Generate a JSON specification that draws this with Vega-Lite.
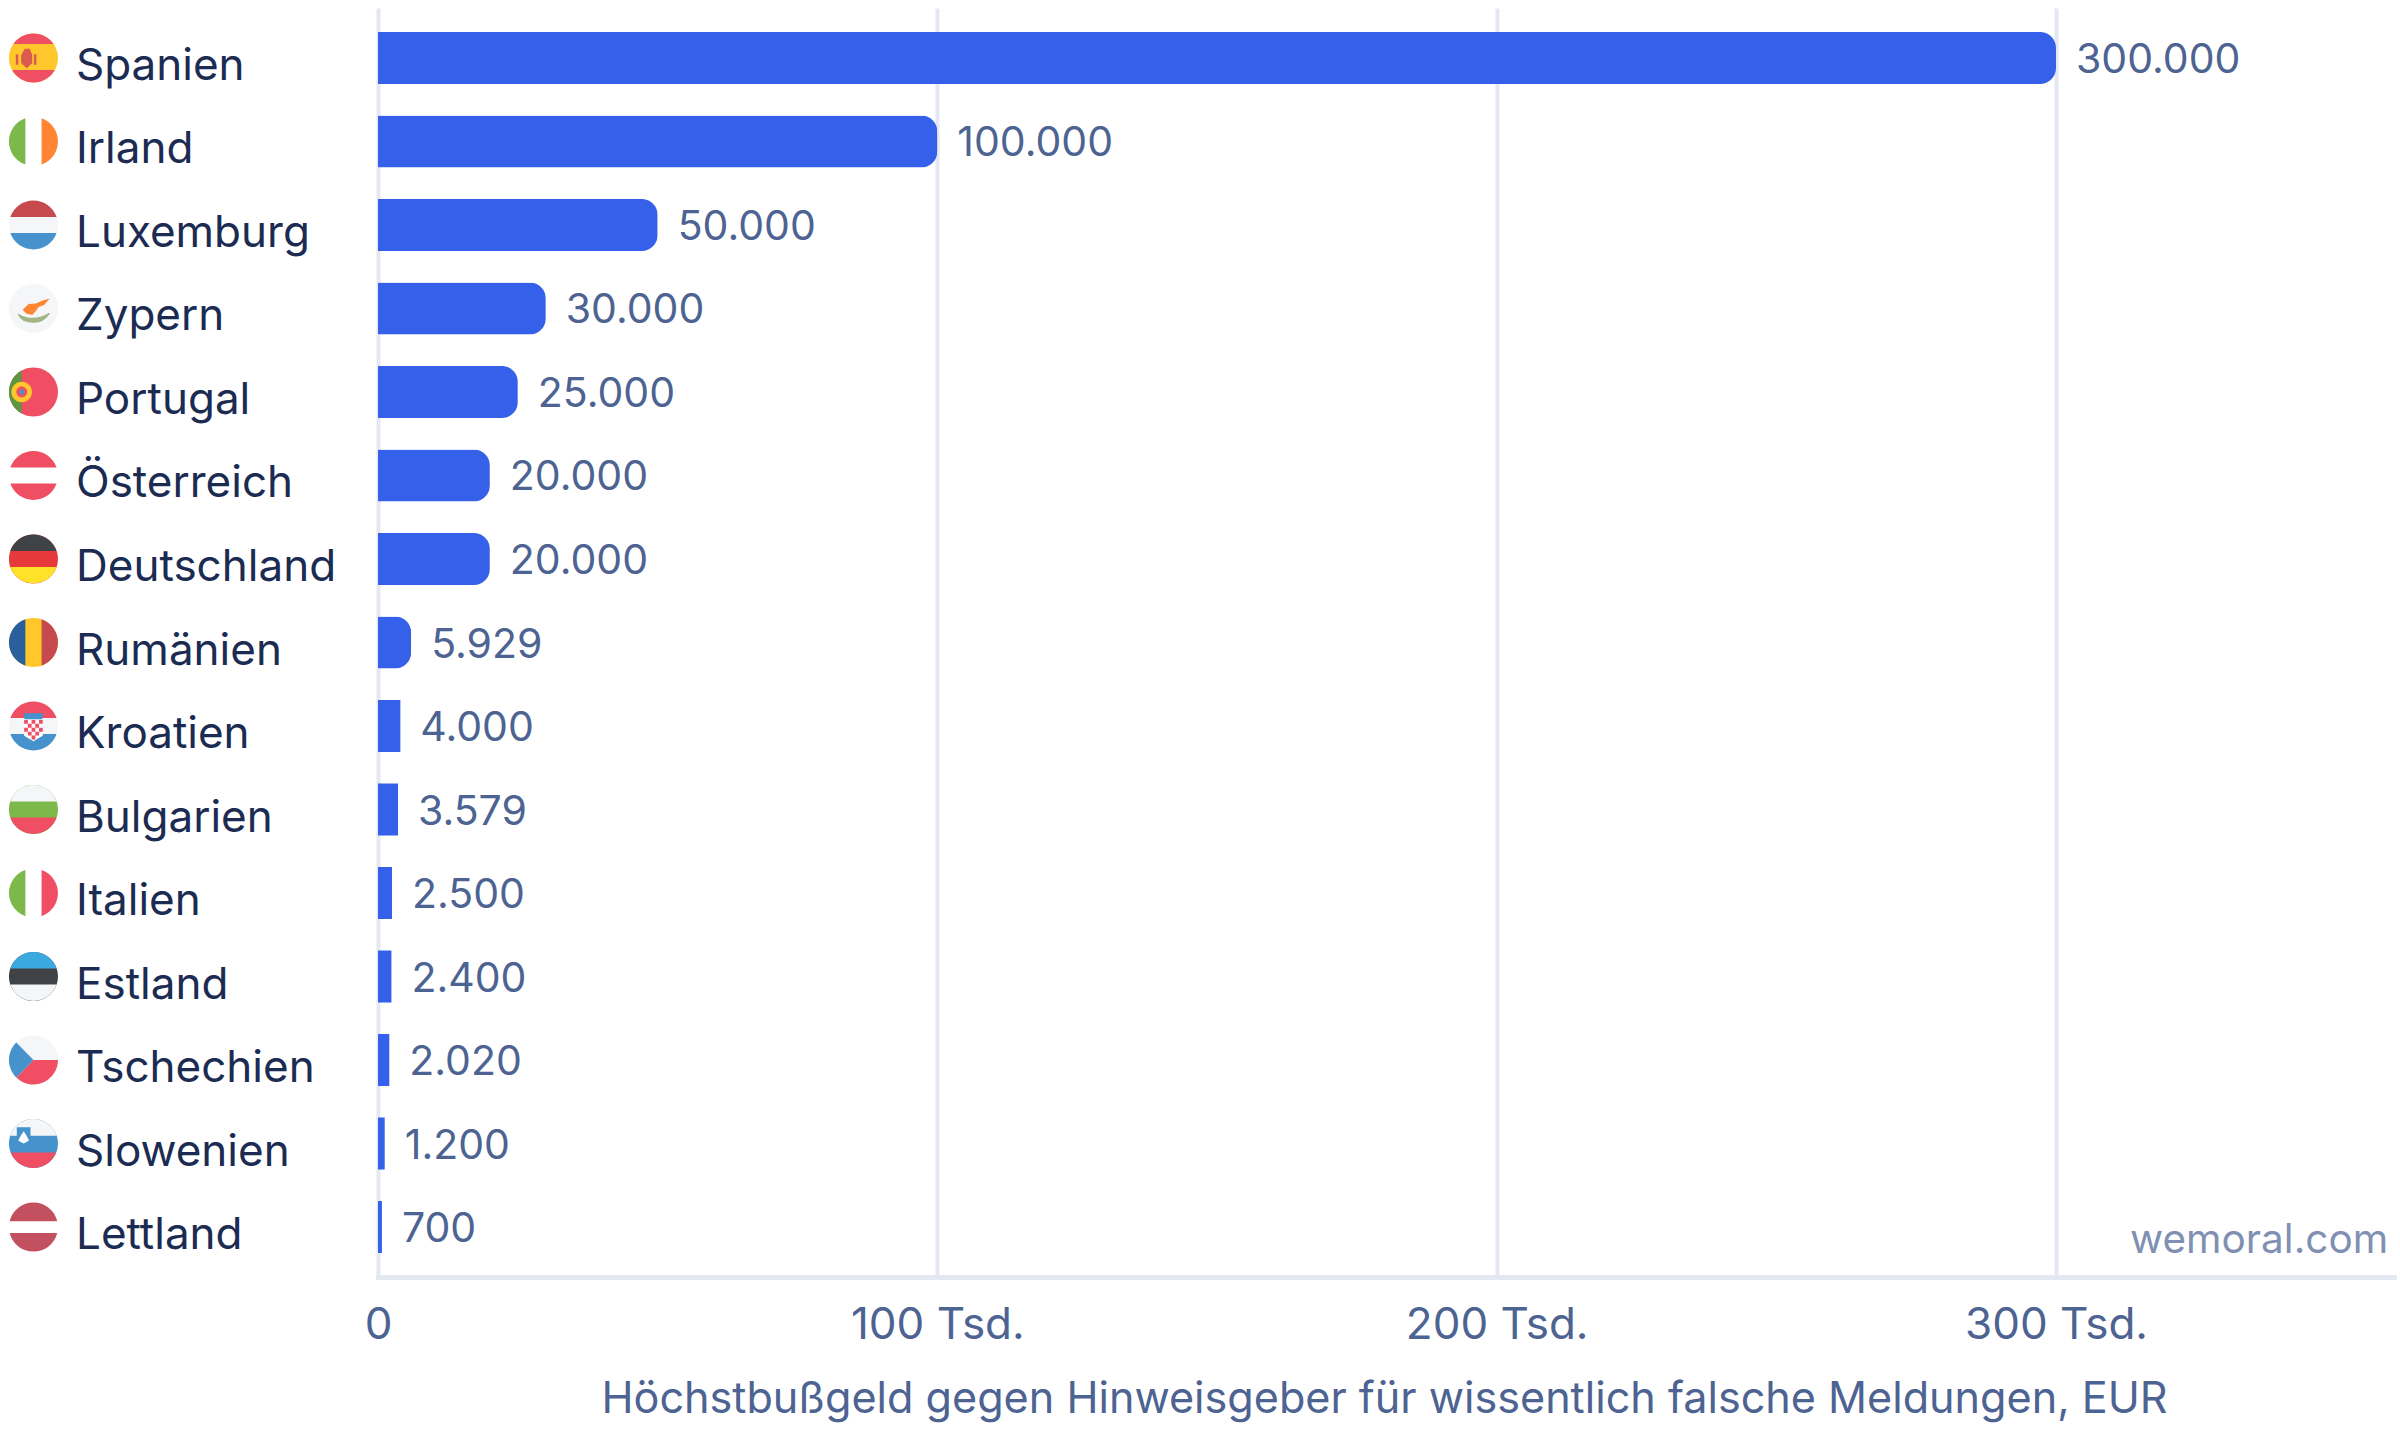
{
  "$schema": "https://vega.github.io/schema/vega-lite/v6.json",
  "width": 2016,
  "height": 1269,
  "autosize": "none",
  "padding": {"left": 378, "top": 8, "right": 6, "bottom": 154},
  "background": "white",
  "config": {"view": {"stroke": null}, "font": "Inter"},
  "datasets": {
    "bussgeld": [
      {"land": "Spanien", "wert": 300000, "betrag": "300.000"},
      {"land": "Irland", "wert": 100000, "betrag": "100.000"},
      {"land": "Luxemburg", "wert": 50000, "betrag": "50.000"},
      {"land": "Zypern", "wert": 30000, "betrag": "30.000"},
      {"land": "Portugal", "wert": 25000, "betrag": "25.000"},
      {"land": "Österreich", "wert": 20000, "betrag": "20.000"},
      {"land": "Deutschland", "wert": 20000, "betrag": "20.000"},
      {"land": "Rumänien", "wert": 5929, "betrag": "5.929"},
      {"land": "Kroatien", "wert": 4000, "betrag": "4.000"},
      {"land": "Bulgarien", "wert": 3579, "betrag": "3.579"},
      {"land": "Italien", "wert": 2500, "betrag": "2.500"},
      {"land": "Estland", "wert": 2400, "betrag": "2.400"},
      {"land": "Tschechien", "wert": 2020, "betrag": "2.020"},
      {"land": "Slowenien", "wert": 1200, "betrag": "1.200"},
      {"land": "Lettland", "wert": 700, "betrag": "700"}
    ],
    "flaggen": [
      {"land": "Spanien", "teil": "kreis", "farbe": "gelb"},
      {"land": "Spanien", "teil": "es_oben", "farbe": "rot"},
      {"land": "Spanien", "teil": "es_unten", "farbe": "rot"},
      {"land": "Spanien", "teil": "es_wappen", "farbe": "wappenrot"},
      {"land": "Irland", "teil": "kreis", "farbe": "weiss"},
      {"land": "Irland", "teil": "links", "farbe": "gruen"},
      {"land": "Irland", "teil": "rechts", "farbe": "orange"},
      {"land": "Luxemburg", "teil": "kreis", "farbe": "hell"},
      {"land": "Luxemburg", "teil": "oben", "farbe": "dunkelrot"},
      {"land": "Luxemburg", "teil": "unten", "farbe": "hellblau"},
      {"land": "Zypern", "teil": "kreis", "farbe": "hell"},
      {"land": "Zypern", "teil": "cy_zweig", "farbe": "oliv"},
      {"land": "Zypern", "teil": "cy_insel", "farbe": "orange"},
      {"land": "Portugal", "teil": "kreis", "farbe": "rot"},
      {"land": "Portugal", "teil": "pt_links", "farbe": "dunkelgruen"},
      {"land": "Portugal", "teil": "pt_ring", "farbe": "gelb"},
      {"land": "Portugal", "teil": "pt_schild", "farbe": "rot"},
      {"land": "Portugal", "teil": "pt_kern", "farbe": "hellblau"},
      {"land": "Österreich", "teil": "kreis", "farbe": "weiss"},
      {"land": "Österreich", "teil": "oben", "farbe": "rot"},
      {"land": "Österreich", "teil": "unten", "farbe": "rot"},
      {"land": "Deutschland", "teil": "kreis", "farbe": "grellrot"},
      {"land": "Deutschland", "teil": "oben", "farbe": "anthrazit"},
      {"land": "Deutschland", "teil": "unten", "farbe": "zitrone"},
      {"land": "Rumänien", "teil": "kreis", "farbe": "gelb"},
      {"land": "Rumänien", "teil": "links", "farbe": "dunkelblau"},
      {"land": "Rumänien", "teil": "rechts", "farbe": "dunkelrot"},
      {"land": "Kroatien", "teil": "kreis", "farbe": "hell"},
      {"land": "Kroatien", "teil": "oben", "farbe": "rot"},
      {"land": "Kroatien", "teil": "unten", "farbe": "hellblau"},
      {"land": "Kroatien", "teil": "hr_grund", "farbe": "weiss"},
      {"land": "Kroatien", "teil": "hr_schach", "farbe": "rot"},
      {"land": "Kroatien", "teil": "hr_krone", "farbe": "hellblau"},
      {"land": "Bulgarien", "teil": "kreis", "farbe": "gruen"},
      {"land": "Bulgarien", "teil": "oben", "farbe": "hell"},
      {"land": "Bulgarien", "teil": "unten", "farbe": "rot"},
      {"land": "Italien", "teil": "kreis", "farbe": "weiss"},
      {"land": "Italien", "teil": "links", "farbe": "gruen"},
      {"land": "Italien", "teil": "rechts", "farbe": "rot"},
      {"land": "Estland", "teil": "kreis", "farbe": "anthrazit"},
      {"land": "Estland", "teil": "oben", "farbe": "himmel"},
      {"land": "Estland", "teil": "unten", "farbe": "hell"},
      {"land": "Tschechien", "teil": "kreis", "farbe": "hell"},
      {"land": "Tschechien", "teil": "cz_unten", "farbe": "rot"},
      {"land": "Tschechien", "teil": "cz_keil", "farbe": "hellblau"},
      {"land": "Slowenien", "teil": "kreis", "farbe": "hellblau"},
      {"land": "Slowenien", "teil": "si_oben", "farbe": "hell"},
      {"land": "Slowenien", "teil": "si_unten", "farbe": "rot"},
      {"land": "Slowenien", "teil": "si_schild", "farbe": "hellblau"},
      {"land": "Slowenien", "teil": "si_berg", "farbe": "weiss"},
      {"land": "Lettland", "teil": "kreis", "farbe": "weiss"},
      {"land": "Lettland", "teil": "lv_oben", "farbe": "weinrot"},
      {"land": "Lettland", "teil": "lv_unten", "farbe": "weinrot"}
    ]
  },
  "encoding": {
    "y": {
      "field": "land",
      "type": "nominal",
      "title": null,
      "scale": {
        "type": "band",
        "domain": ["Spanien", "Irland", "Luxemburg", "Zypern", "Portugal", "Österreich", "Deutschland", "Rumänien", "Kroatien", "Bulgarien", "Italien", "Estland", "Tschechien", "Slowenien", "Lettland"],
        "paddingInner": 0.377,
        "paddingOuter": 0.287
      },
      "axis": {
        "domain": false,
        "ticks": false,
        "grid": false,
        "labelAlign": "left",
        "labelBaseline": "middle",
        "labelPadding": 302.5,
        "labelOffset": 9,
        "labelLimit": 400,
        "labelFont": "Inter",
        "labelFontSize": 44,
        "labelColor": "#1b2b52"
      }
    }
  },
  "layer": [
    {
      "data": {"name": "bussgeld"},
      "transform": [{"filter": "datum.wert > 5000"}],
      "mark": {"type": "bar", "color": "#3460ea", "cornerRadiusEnd": 16},
      "encoding": {
        "x": {
          "field": "wert",
          "type": "quantitative",
          "title": "Höchstbußgeld gegen Hinweisgeber für wissentlich falsche Meldungen, EUR",
          "scale": {"domain": [0, 360429], "nice": false},
          "axis": {
            "values": [0, 100000, 200000, 300000],
            "labelExpr": "datum.value == 0 ? '0' : datum.value / 1000 + ' Tsd.'",
            "grid": true,
            "gridColor": "#e4e8f2",
            "gridWidth": 4,
            "domainColor": "#e4e8f2",
            "domainWidth": 5,
            "domainCap": "square",
            "ticks": false,
            "labelFont": "Inter",
            "labelFontSize": 44,
            "labelColor": "#4d6392",
            "labelPadding": 26,
            "labelLimit": 400,
            "labelFlush": false,
            "titleFont": "Inter",
            "titleFontSize": 43.15,
            "titleFontWeight": "normal",
            "titleColor": "#4d6392",
            "titlePadding": 31,
            "titleX": 1006
          }
        }
      }
    },
    {
      "data": {"name": "bussgeld"},
      "transform": [{"filter": "datum.wert < 5000"}],
      "mark": {"type": "bar", "color": "#3460ea"},
      "encoding": {
        "x": {"field": "wert", "type": "quantitative"}
      }
    },
    {
      "data": {"name": "bussgeld"},
      "mark": {"type": "text", "align": "left", "baseline": "middle", "dx": 20, "dy": 3, "font": "Inter", "fontSize": 41, "color": "#4d6392"},
      "encoding": {
        "x": {"field": "wert", "type": "quantitative"},
        "text": {"field": "betrag"}
      }
    },
    {
      "data": {"name": "flaggen"},
      "mark": {"type": "point", "filled": true, "opacity": 1, "size": 2401, "strokeWidth": 0},
      "encoding": {
        "x": {"datum": -61600, "type": "quantitative"},
        "shape": {
          "field": "teil",
          "type": "nominal",
          "legend": null,
          "scale": {
            "domain": ["kreis", "oben", "unten", "links", "rechts", "es_oben", "es_unten", "es_wappen", "cy_insel", "cy_zweig", "pt_links", "pt_ring", "pt_schild", "pt_kern", "hr_grund", "hr_schach", "hr_krone", "cz_unten", "cz_keil", "si_oben", "si_unten", "si_schild", "si_berg", "lv_oben", "lv_unten"],
            "range": [
              "M-1,0A1,1 0 1 1 1,0A1,1 0 1 1 -1,0Z",
              "M-0.944,-0.33A1,1 0 0 1 0.944,-0.33Z",
              "M0.944,0.33A1,1 0 0 1 -0.944,0.33Z",
              "M-0.33,-0.944L-0.33,0.944A1,1 0 0 1 -0.33,-0.944Z",
              "M0.33,-0.944A1,1 0 0 1 0.33,0.944Z",
              "M-0.818,-0.575A1,1 0 0 1 0.818,-0.575Z",
              "M0.872,0.49A1,1 0 0 1 -0.872,0.49Z",
              "M-0.72,-0.15H-0.62V0.28H-0.72ZM0.02,-0.15H0.12V0.28H0.02ZM-0.5,-0.12L-0.35,-0.38L-0.15,-0.38L-0.05,-0.12L-0.05,0.2L-0.27,0.42L-0.5,0.2Z",
              "M-0.44,0.05L-0.2,-0.18L0.1,-0.2L0.35,-0.32L0.66,-0.41L0.45,-0.15L0.2,-0.05L0.1,0.1L-0.05,0.27L-0.3,0.2Z",
              "M-0.65,0.22L-0.6,0.22Q0,0.56 0.62,0.18L0.68,0.2Q0.4,0.6 0,0.58Q-0.5,0.58 -0.65,0.22Z",
              "M-0.48,-0.877L-0.48,0.877A1,1 0 0 1 -0.48,-0.877Z",
              "M-0.9,0A0.42,0.42 0 1 1 -0.06,0A0.42,0.42 0 1 1 -0.9,0Z",
              "M-0.7,0A0.22,0.22 0 1 1 -0.26,0A0.22,0.22 0 1 1 -0.7,0Z",
              "M-0.58,0A0.1,0.1 0 1 1 -0.38,0A0.1,0.1 0 1 1 -0.58,0Z",
              "M-0.38,-0.25L0.38,-0.25L0.38,0.4L0,0.62L-0.38,0.4Z",
              "M-0.38,-0.25H-0.228V-0.09H-0.38ZM-0.076,-0.25H0.076V-0.09H-0.076ZM0.228,-0.25H0.38V-0.09H0.228ZM-0.228,-0.09H-0.076V0.07H-0.228ZM0.076,-0.09H0.228V0.07H0.076ZM-0.38,0.07H-0.228V0.23H-0.38ZM-0.076,0.07H0.076V0.23H-0.076ZM0.228,0.07H0.38V0.23H0.228ZM-0.228,0.23H-0.076V0.39H-0.228ZM0.076,0.23H0.228V0.39H0.076ZM-0.076,0.39H0.076V0.55H-0.076Z",
              "M-0.4,-0.52L0.4,-0.52L0.36,-0.28L-0.36,-0.28Z",
              "M1,0A1,1 0 0 1 -0.7,0.714L0,0Z",
              "M-0.7,-0.714L0,0L-0.7,0.714A1,1 0 0 1 -0.7,-0.714Z",
              "M-0.947,-0.32A1,1 0 0 1 0.947,-0.32Z",
              "M0.929,0.37A1,1 0 0 1 -0.929,0.37Z",
              "M-0.68,-0.66L-0.12,-0.66L-0.12,-0.2L-0.4,0.03L-0.68,-0.2Z",
              "M-0.62,-0.12L-0.5,-0.35L-0.4,-0.5L-0.3,-0.35L-0.18,-0.12L-0.3,-0.05L-0.4,0L-0.5,-0.05Z",
              "M-0.971,-0.24A1,1 0 0 1 0.971,-0.24Z",
              "M0.971,0.24A1,1 0 0 1 -0.971,0.24Z"
            ]
          }
        },
        "color": {
          "field": "farbe",
          "type": "nominal",
          "legend": null,
          "scale": {
            "domain": ["rot", "gelb", "dunkelrot", "weiss", "hell", "gruen", "orange", "hellblau", "oliv", "dunkelgruen", "grellrot", "anthrazit", "zitrone", "dunkelblau", "himmel", "weinrot", "wappenrot"],
            "range": ["#f04e62", "#ffc72c", "#c6494e", "#ffffff", "#f5f6f8", "#7db84a", "#ff8533", "#4592cc", "#a3b587", "#5f9440", "#e5393c", "#3f4347", "#ffe128", "#2a5f9e", "#3aa9e0", "#c2505f", "#db5a50"]
          }
        }
      }
    },
    {
      "data": {"values": [{"land": "Lettland", "marke": "wemoral.com", "pos": 359400}]},
      "mark": {"type": "text", "align": "right", "baseline": "middle", "dy": 14, "font": "Inter", "fontSize": 40.5, "color": "#7f90b3"},
      "encoding": {
        "x": {"field": "pos", "type": "quantitative"},
        "text": {"field": "marke"}
      }
    }
  ]
}
